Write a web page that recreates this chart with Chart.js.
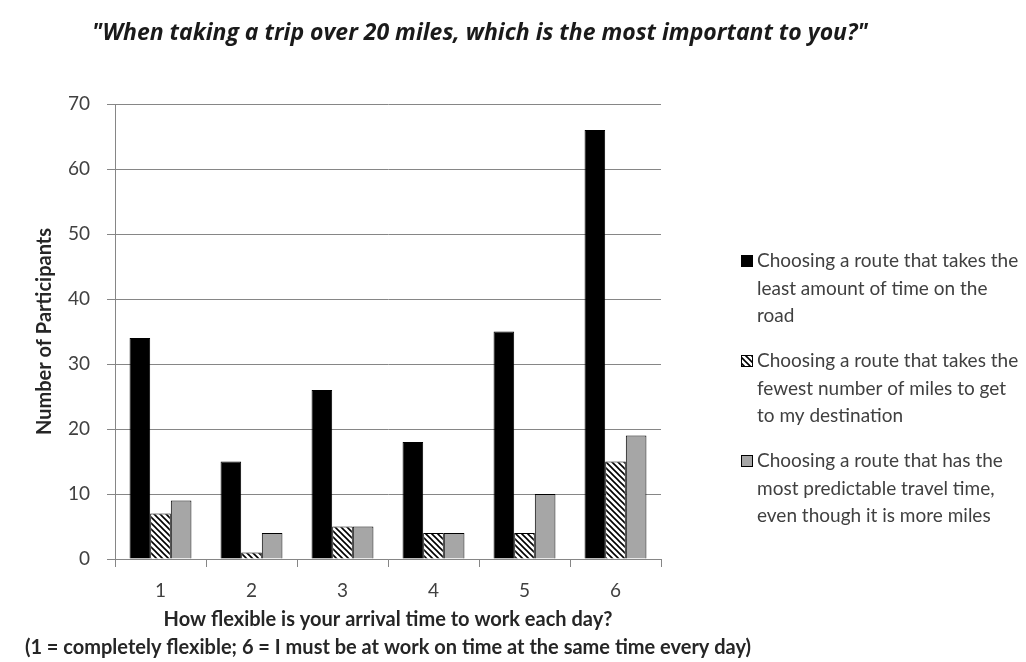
<!DOCTYPE html>
<html>
<head>
<meta charset="utf-8">
<script src="https://cdn.jsdelivr.net/npm/chart.js@4.4.1/dist/chart.umd.min.js"></script>
<style>
  html, body { margin: 0; padding: 0; background: #fff; }
  #wrap { width: 1026px; height: 662px; position: relative; }
</style>
</head>
<body>
<div id="wrap"><canvas id="chart"></canvas></div>
<script>
// =========================
// DATA
// =========================
const categories = ["1", "2", "3", "4", "5", "6"];
const leastTime = [34, 15, 26, 18, 35, 66];
const fewestMiles = [7, 1, 5, 4, 4, 15];
const predictable = [9, 4, 5, 4, 10, 19];

const seriesLabels = [
  ["Choosing a route that takes the", "least amount of time on the", "road"],
  ["Choosing a route that takes the", "fewest number of miles to get", "to my destination"],
  ["Choosing a route that has the", "most predictable travel time,", "even though it is more miles"]
];

const chartTitle = "\"When taking a trip over 20 miles, which is the most important to you?\"";
const xTitle = [
  "How flexible is your arrival time to work each day?",
  "(1 = completely flexible; 6 = I must be at work on time at the same time every day)"
];
const yTitle = "Number of Participants";

const FONT = "Lato, 'Open Sans', sans-serif";
const GRID = "#868686";
const TEXT = "#404040";

const canvas = document.getElementById("chart");
const ctx = canvas.getContext("2d");

// =========================
// HATCH FILL
// =========================
function makeHatch() {
  const tile = document.createElement("canvas");
  tile.width = 6;
  tile.height = 6;
  const g = tile.getContext("2d");
  g.fillStyle = "#fff";
  g.fillRect(0, 0, 6, 6);
  g.strokeStyle = "#000";
  g.lineWidth = 1.6;
  g.beginPath();
  g.moveTo(-1, -1); g.lineTo(7, 7);
  g.moveTo(-1, 5); g.lineTo(1, 7);
  g.moveTo(5, -1); g.lineTo(7, 1);
  g.stroke();
  return ctx.createPattern(tile, "repeat");
}

const hatch = makeHatch();

// =========================
// TITLES + SIDE LEGEND
// (the x title is drawn here so the long second line is not squeezed to the plot width)
// =========================
const sideText = {
  id: "sideText",
  afterDraw(chart) {
    const c = chart.ctx;
    const area = chart.chartArea;
    c.save();
    c.textBaseline = "middle";

    c.fillStyle = "#1a1a1a";
    c.font = "italic bold 23px 'Open Sans', sans-serif";
    c.textAlign = "left";
    c.fillText(chartTitle, 92, 33);

    c.fillStyle = "#262626";
    c.font = "bold 20px " + FONT;
    c.textAlign = "center";
    const cx = (area.left + area.right) / 2;
    xTitle.forEach((line, j) => c.fillText(line, cx, 620 + j * 28));

    c.textAlign = "left";
    c.font = "19px " + FONT;
    chart.data.datasets.forEach((ds, i) => {
      const top = 261 + i * 100;
      c.fillStyle = ds.backgroundColor;
      c.fillRect(741, top - 6, 12, 12);
      c.strokeStyle = "#000";
      c.lineWidth = 1;
      c.strokeRect(741.5, top - 5.5, 11, 11);
      c.fillStyle = TEXT;
      seriesLabels[i].forEach((line, j) => {
        c.fillText(line, 757, top + j * 27.5);
      });
    });
    c.restore();
  }
};

// =========================
// BAR CHART
// =========================
new Chart(canvas, {
  type: "bar",
  data: {
    labels: categories,
    datasets: [
      { label: seriesLabels[0].join(" "), data: leastTime, backgroundColor: "#000000" },
      { label: seriesLabels[1].join(" "), data: fewestMiles, backgroundColor: hatch },
      { label: seriesLabels[2].join(" "), data: predictable, backgroundColor: "#a6a6a6" }
    ]
  },
  options: {
    responsive: true,
    maintainAspectRatio: false,
    animation: false,
    devicePixelRatio: 1,
    layout: { padding: { top: 104, right: 365, left: 0, bottom: 0 } },
    datasets: {
      bar: {
        borderColor: "#000",
        borderWidth: 1,
        barPercentage: 1,
        categoryPercentage: 0.68
      }
    },
    plugins: {
      legend: { display: false },
      title: { display: false },
      tooltip: { enabled: false }
    },
    scales: {
      x: {
        afterFit: s => { s.height = 103; },
        grid: { drawOnChartArea: false, color: GRID, tickLength: 8, offset: true },
        border: { color: GRID },
        ticks: { color: TEXT, font: { family: FONT, size: 19 }, padding: 12 },
        title: { display: false }
      },
      y: {
        min: 0,
        max: 70,
        afterFit: s => { s.width = 115; },
        grid: { color: GRID, tickLength: 8 },
        border: { color: GRID },
        ticks: { stepSize: 10, color: TEXT, font: { family: FONT, size: 19 }, padding: 17 },
        title: {
          display: true,
          text: yTitle,
          color: "#262626",
          font: { family: FONT, size: 20, weight: "bold" },
          padding: { top: 33, bottom: 0 }
        }
      }
    }
  },
  plugins: [sideText]
});
</script>
</body>
</html>
